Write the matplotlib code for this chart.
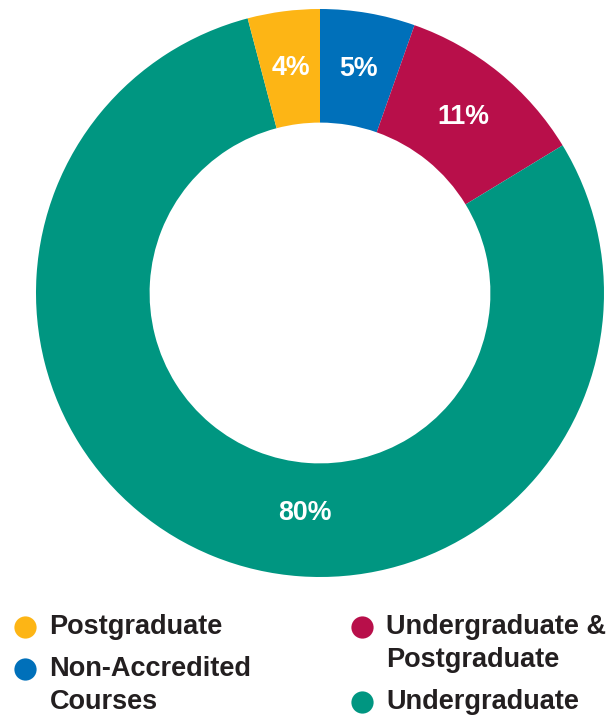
import matplotlib
matplotlib.use("Agg")
import matplotlib.pyplot as plt
from matplotlib.lines import Line2D
import numpy as np

plt.rcParams['font.family'] = ['Liberation Sans', 'DejaVu Sans']

# Data (clockwise from 12 o'clock)
categories = ["Non-Accredited\nCourses", "Undergraduate &\nPostgraduate", "Undergraduate", "Postgraduate"]
values = [5.4, 10.9, 79.6, 4.1]
labels = ["5%", "11%", "80%", "4%"]
colors = ["#0070BA", "#B80F4A", "#009681", "#FDB515"]

W, H = 612, 717
fig = plt.figure(figsize=(W / 100, H / 100), dpi=100)
cx, cy, R = 320, 293, 284
ax = fig.add_axes([(cx - R) / W, (H - cy - R) / H, 2 * R / W, 2 * R / H])
ax.set_aspect('equal')
ax.axis('off')

wedges, _ = ax.pie(values, colors=colors, startangle=90, counterclock=False,
                   radius=1.0, wedgeprops=dict(width=0.4, linewidth=0))
ax.set_xlim(-1, 1)
ax.set_ylim(-1, 1)

for i, (w, lab) in enumerate(zip(wedges, labels)):
    ang = (w.theta1 + w.theta2) / 2
    r = 0.8
    if lab == "80%":
        ang = 266  # label placed near the bottom of the large slice
        r = 0.775
    x = r * np.cos(np.deg2rad(ang))
    y = r * np.sin(np.deg2rad(ang))
    ax.text(x, y, lab, ha='center', va='center', color='white',
            fontsize=19.3, fontweight='bold')

# Legend (manual layout, two columns)
legend_items = [
    (3, 25, 627, [627]),
    (0, 25, 669, [669, 702]),
    (1, 362, 627, [627, 660]),
    (2, 362, 702, [702]),
]
for idx, mx, my, ys in legend_items:
    fig.add_artist(Line2D([mx / W], [1 - my / H], marker='o', markersize=16,
                          color=colors[idx], markeredgewidth=0, linestyle='None',
                          transform=fig.transFigure))
    for line, ly in zip(categories[idx].split("\n"), ys):
        fig.text((mx + 24.5) / W, 1 - ly / H, line, ha='left', va='center',
                 fontsize=19.5, fontweight='bold', color='#231F20')

fig.savefig("out.png", dpi=100)
